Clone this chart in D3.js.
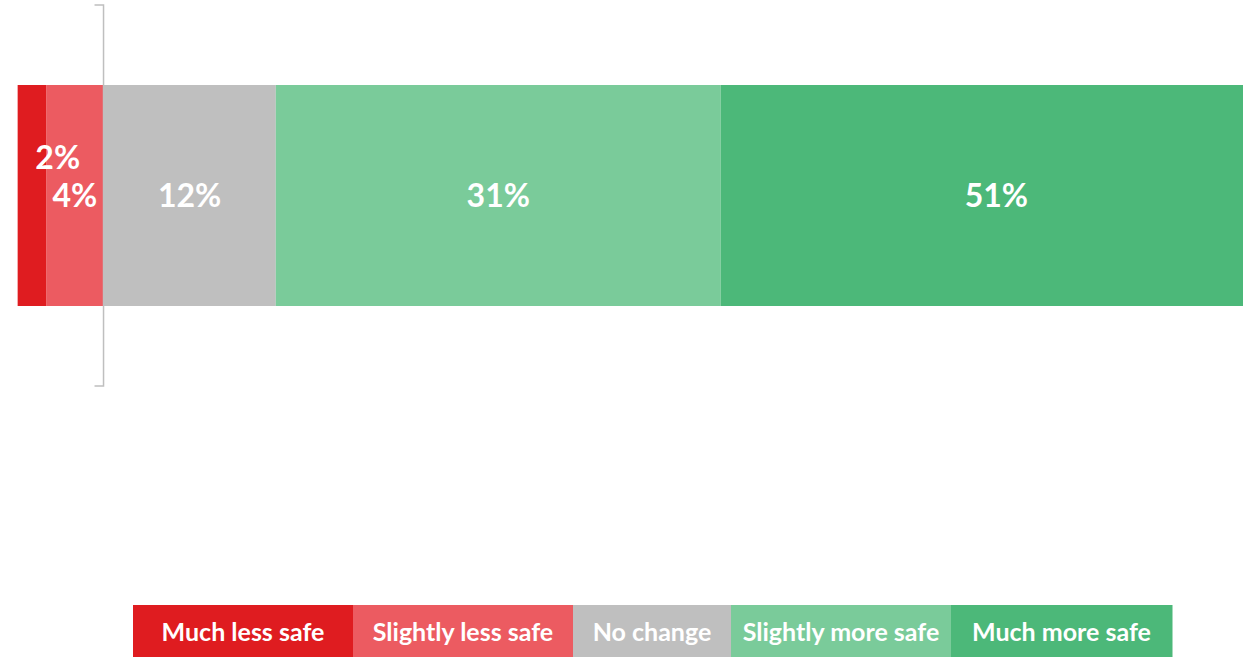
<!DOCTYPE html>
<html>
<head>
<meta charset="utf-8">
<script src="https://cdn.jsdelivr.net/npm/d3@7"></script>
<style>
  html, body { margin: 0; padding: 0; background: #fff; }
  svg { display: block; font-family: Lato, "Open Sans", sans-serif; }
</style>
</head>
<body>
<div id="chart"></div>
<script>
// Daten
const categories = ["Much less safe", "Slightly less safe", "No change", "Slightly more safe", "Much more safe"];
const values = [-2, -4, 12, 31, 51];
const colors = ["#DF1C20", "#EC5B61", "#BFBFBF", "#7ACB9A", "#4CB879"];

function drawChart(selector) {
    const width = 1243;
    const height = 657;

    const svg = d3.select(selector)
        .append("svg")
        .attr("width", width)
        .attr("height", height);

    // Plotbereich (rechts abgeschnitten wie im Original)
    const plot = { left: 17.4, right: 1272, top: 5, bottom: 386 };
    const x = d3.scaleLinear()
        .domain([-6, 81.4])
        .range([plot.left, plot.right]);

    const y = d3.scaleBand()
        .domain(["all"])
        .range([plot.top, plot.bottom])
        .paddingInner(0)
        .paddingOuter(0.362);

    svg.append("clipPath")
        .attr("id", "plot-clip")
        .append("rect")
        .attr("x", plot.left)
        .attr("y", plot.top)
        .attr("width", plot.right - plot.left)
        .attr("height", plot.bottom - plot.top);

    // Divergierend stapeln: positive nach rechts
    let pos = 0;
    const segments = values.map((v, i) => {
        let x0 = 0, x1 = 0;
        if (v >= 0) { x0 = pos; x1 = pos + v; pos = x1; }
        return { cat: categories[i], value: v, x0, x1, color: colors[i] };
    });
    // negative Segmente: "Much less safe" ganz außen
    let acc = 0;
    segments.filter(d => d.value < 0).reverse().forEach(d => { d.x1 = acc; d.x0 = acc + d.value; acc = d.x0; });

    const g = svg.append("g").attr("clip-path", "url(#plot-clip)");

    g.selectAll(".seg")
        .data(segments)
        .join("rect")
        .attr("class", "seg")
        .attr("x", d => x(d.x0))
        .attr("y", y("all"))
        .attr("width", d => x(d.x1) - x(d.x0))
        .attr("height", y.bandwidth())
        .style("fill", d => d.color);

    // Kategorienachse bei 0
    const ax = x(0);
    svg.append("path")
        .attr("d", `M${ax - 9},${plot.top}H${ax}V${plot.bottom}H${ax - 9}`)
        .style("fill", "none")
        .style("stroke", "#BFBFBF")
        .style("stroke-width", 1.5);

    // Beschriftungen (2% manuell verschoben wie im Original)
    const labelNudge = { "Much less safe": [26, -38] };
    svg.selectAll(".value-text")
        .data(segments)
        .join("text")
        .attr("class", "value-text")
        .attr("x", d => {
            const cx = (x(d.x0) + Math.min(x(d.x1), plot.right)) / 2;
            return cx + (labelNudge[d.cat] ? labelNudge[d.cat][0] : 0);
        })
        .attr("y", d => y("all") + y.bandwidth() / 2 + (labelNudge[d.cat] ? labelNudge[d.cat][1] : 0))
        .attr("dy", "0.36em")
        .attr("text-anchor", "middle")
        .style("fill", "#fff")
        .style("font-weight", "bold")
        .style("font-size", "32px")
        .text(d => Math.abs(d.value) + "%");

    // Legende
    const legendWidths = [220, 220, 158, 220, 221];
    const legendX0 = 133, legendY = 605, legendH = 52;
    let lx = legendX0;
    const items = categories.map((c, i) => {
        const item = { cat: c, color: colors[i], x: lx, w: legendWidths[i] };
        lx += legendWidths[i];
        return item;
    });
    const legend = svg.append("g").attr("class", "legend");
    legend.selectAll("rect")
        .data(items)
        .join("rect")
        .attr("x", d => d.x)
        .attr("y", legendY)
        .attr("width", d => d.w + 0.5)
        .attr("height", legendH)
        .style("fill", d => d.color);
    legend.selectAll("text")
        .data(items)
        .join("text")
        .attr("x", d => d.x + d.w / 2)
        .attr("y", legendY + legendH / 2 + 1)
        .attr("dy", "0.36em")
        .attr("text-anchor", "middle")
        .style("fill", "#fff")
        .style("font-weight", "bold")
        .style("font-size", "25px")
        .text(d => d.cat);
}

drawChart("#chart");
</script>
</body>
</html>
